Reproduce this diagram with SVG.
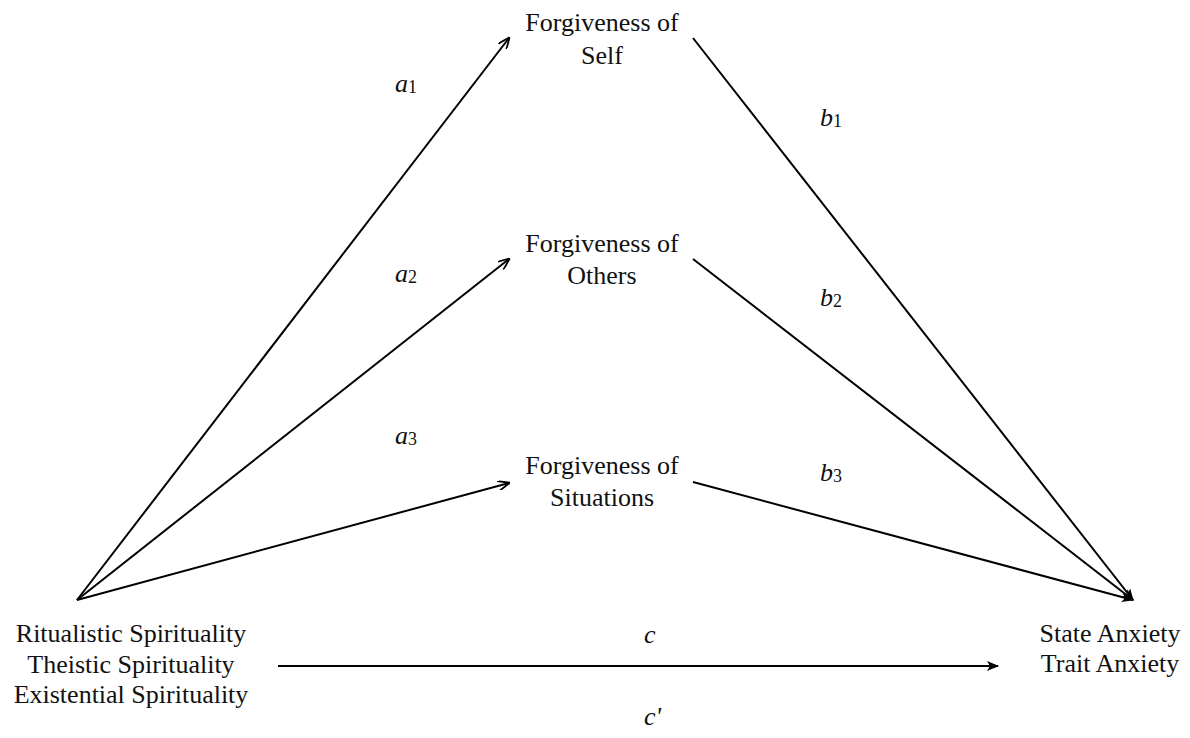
<svg xmlns="http://www.w3.org/2000/svg" width="1190" height="738" viewBox="0 0 1190 738">
<style>
.t{font-family:"Liberation Serif","Times New Roman",serif;font-size:26px;fill:#111;text-anchor:middle}
.l{font-family:"Liberation Serif","Times New Roman",serif;font-size:26px;font-style:italic;fill:#111}
.s{font-size:18px;font-style:normal}
.c{stroke:#000;stroke-width:2;fill:none}
</style>
<defs>
<marker id="ah" viewBox="0 0 12 10" refX="11" refY="5" markerWidth="12" markerHeight="10" markerUnits="userSpaceOnUse" orient="auto">
<path d="M0,0 L12,5 L0,10" fill="none" stroke="#000" stroke-width="1.8"/>
</marker>
<marker id="as" viewBox="0 0 12 10" refX="11" refY="5" markerWidth="12" markerHeight="10" markerUnits="userSpaceOnUse" orient="auto">
<path d="M0,0 L12,5 L0,10 L3,5 Z" fill="#000"/>
</marker>
</defs>
<rect width="1190" height="738" fill="#fff"/>
<g id="connectors">
<line class="c" x1="77" y1="600" x2="509" y2="38" marker-end="url(#ah)"/>
<line class="c" x1="77" y1="600" x2="509" y2="259" marker-end="url(#ah)"/>
<line class="c" x1="77" y1="600" x2="509" y2="483" marker-end="url(#ah)"/>
<line class="c" x1="693" y1="38" x2="1133" y2="600" marker-end="url(#as)"/>
<line class="c" x1="693" y1="259" x2="1133" y2="600" marker-end="url(#as)"/>
<line class="c" x1="693" y1="482" x2="1133" y2="600" marker-end="url(#as)"/>
<line class="c" x1="278" y1="666" x2="998" y2="666" marker-end="url(#as)"/>
</g>
<g id="self"><text class="t" x="602" y="31">Forgiveness of</text><text class="t" x="602" y="64">Self</text></g>
<g id="others"><text class="t" x="602" y="252">Forgiveness of</text><text class="t" x="602" y="284">Others</text></g>
<g id="situations"><text class="t" x="602" y="474">Forgiveness of</text><text class="t" x="602" y="506">Situations</text></g>
<g id="spirituality"><text class="t" x="131" y="642">Ritualistic Spirituality</text><text class="t" x="131" y="673">Theistic Spirituality</text><text class="t" x="131" y="703">Existential Spirituality</text></g>
<g id="anxiety"><text class="t" x="1110" y="642">State Anxiety</text><text class="t" x="1110" y="672">Trait Anxiety</text></g>
<g id="labels">
<text class="l" x="395" y="92">a<tspan class="s" dy="1">1</tspan></text>
<text class="l" x="395" y="282">a<tspan class="s" dy="1">2</tspan></text>
<text class="l" x="395" y="444">a<tspan class="s" dy="1">3</tspan></text>
<text class="l" x="820" y="126">b<tspan class="s" dy="1">1</tspan></text>
<text class="l" x="820" y="306">b<tspan class="s" dy="1">2</tspan></text>
<text class="l" x="820" y="481">b<tspan class="s" dy="1">3</tspan></text>
<text class="l" x="644" y="643">c</text>
<text class="l" x="644" y="725">c'</text>
</g>
</svg>
